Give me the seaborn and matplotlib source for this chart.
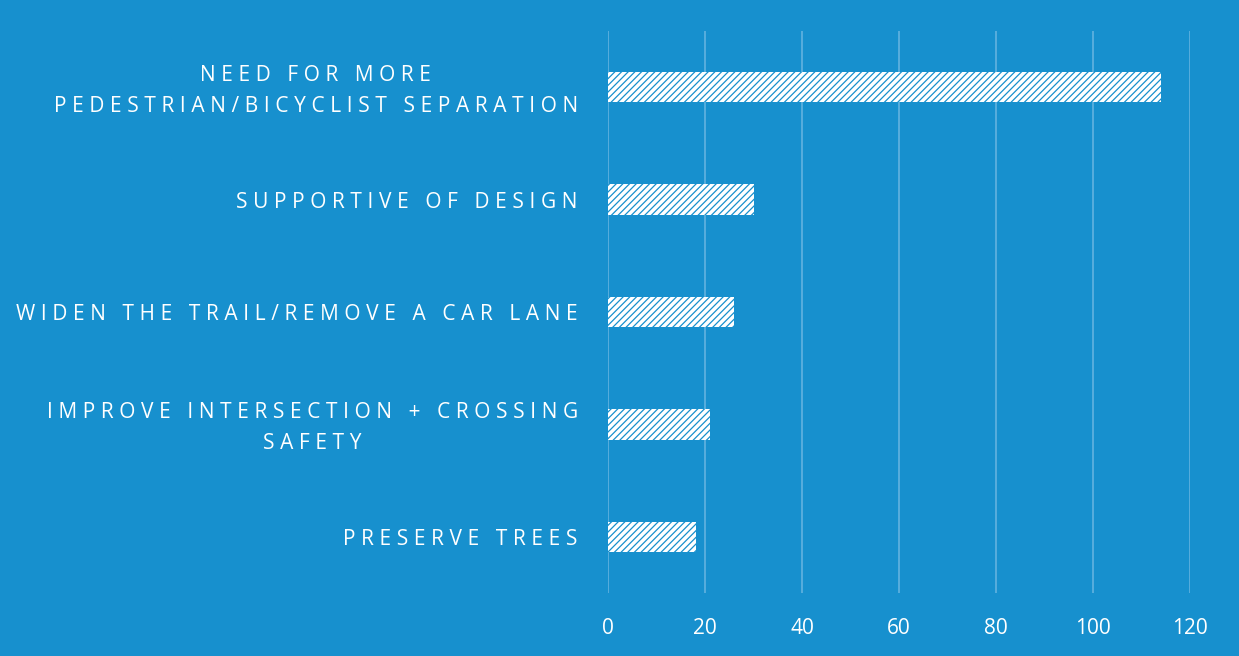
import matplotlib
matplotlib.use("Agg")
import matplotlib.pyplot as plt
import matplotlib.transforms as mtransforms
import seaborn as sns
import pandas as pd

categories = [
    "NEED FOR MORE\nPEDESTRIAN/BICYCLIST SEPARATION",
    "SUPPORTIVE OF DESIGN",
    "WIDEN THE TRAIL/REMOVE A CAR LANE",
    "IMPROVE INTERSECTION + CROSSING\nSAFETY",
    "PRESERVE TREES",
]
values = [114, 30, 26, 21, 18]
xticks = [0, 20, 40, 60, 80, 100, 120]

BG = "#1790CE"
GRID = "#5CB0DE"

sns.set_theme(style="white")
plt.rcParams["font.family"] = ["Open Sans", "DejaVu Sans"]
plt.rcParams["hatch.linewidth"] = 0.9


def spaced(s):
    return "\n".join("\u2009\u200a".join(line) for line in s.split("\n"))


df = pd.DataFrame({"category": categories, "value": values})

fig = plt.figure(figsize=(12.39, 6.56), dpi=100, facecolor=BG)
ax = fig.add_axes([0.491, 0.096, 0.4695, 0.8567])
ax.set_facecolor(BG)

sns.barplot(data=df, x="value", y="category", orient="h", ax=ax,
            color="white", width=0.27, saturation=1, edgecolor=BG,
            linewidth=0, hatch="/////")

ax.set_xlim(0, 120)
ax.set_xticks(xticks)
ax.set_xticklabels([str(t) for t in xticks], color="white", fontsize=15)
ax.set_yticks(range(len(categories)))
ax.set_yticklabels([spaced(c) for c in categories], color="white",
                   fontsize=15, multialignment="center", linespacing=1.65)
ax.tick_params(axis="x", length=0, pad=18)
ax.tick_params(axis="y", length=0, pad=22)
ax.xaxis.grid(True, color=GRID, linewidth=1.3)
ax.set_axisbelow(True)
for s in ax.spines.values():
    s.set_visible(False)
ax.set_xlabel("")
ax.set_ylabel("")

shift = mtransforms.ScaledTranslation(0, 4 / 100, fig.dpi_scale_trans)
for lbl in ax.get_yticklabels():
    if "\n" in lbl.get_text():
        lbl.set_transform(lbl.get_transform() + shift)

fig.savefig("out.png", dpi=100, facecolor=BG)
